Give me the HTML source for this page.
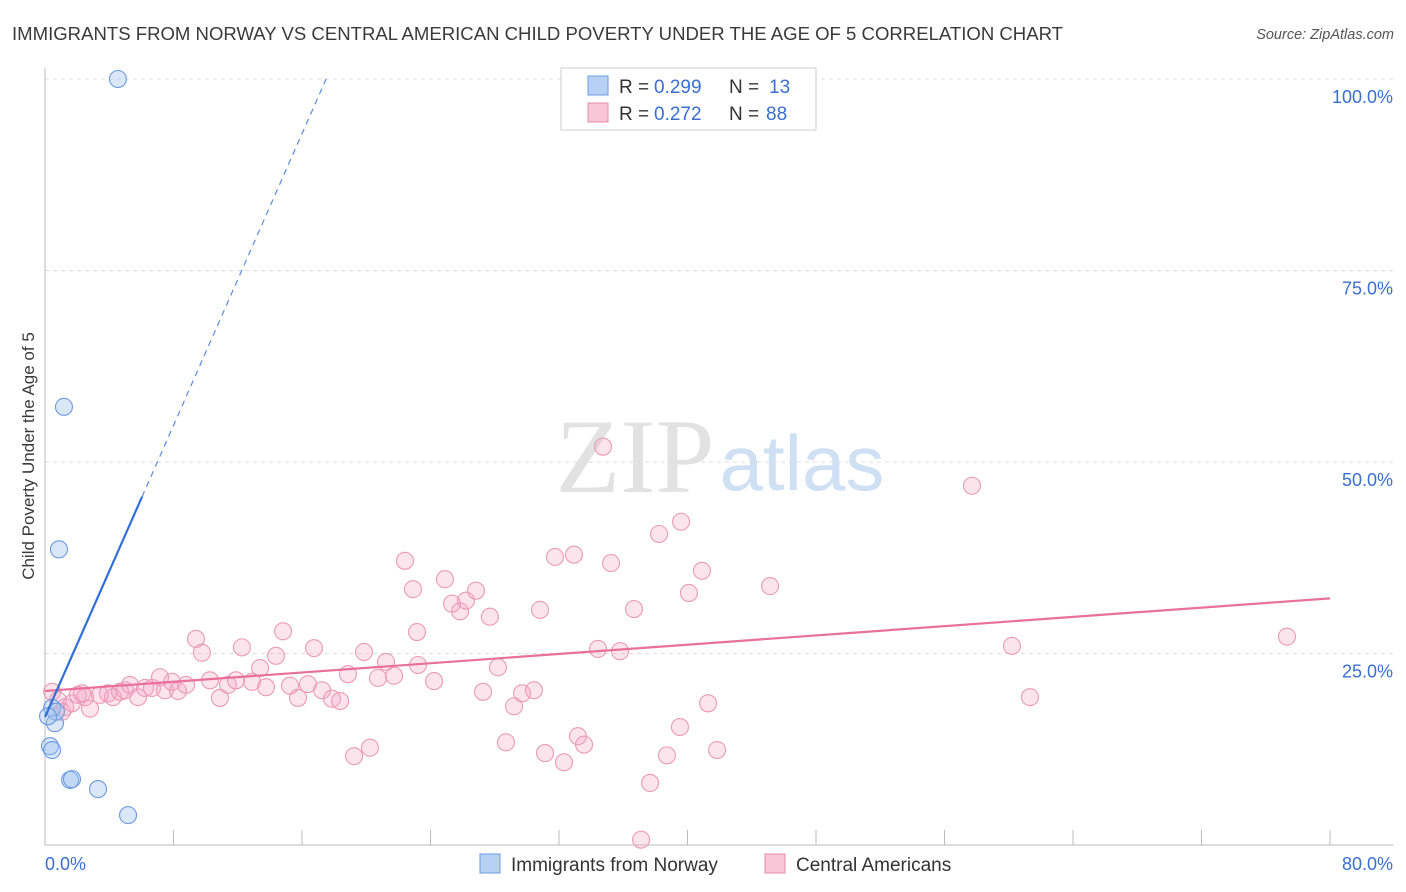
<!DOCTYPE html>
<html><head><meta charset="utf-8"><style>
body{margin:0;background:#fff;font-family:"Liberation Sans",sans-serif;}
svg{display:block}
</style></head><body>
<svg id="chart" width="1406" height="892">
<text x="12" y="40" font-size="18.5" fill="#3a3a3a" textLength="1051" lengthAdjust="spacingAndGlyphs">IMMIGRANTS FROM NORWAY VS CENTRAL AMERICAN CHILD POVERTY UNDER THE AGE OF 5 CORRELATION CHART</text>
<text x="1394" y="39" font-size="14.5" fill="#555" font-style="italic" text-anchor="end">Source: ZipAtlas.com</text>
<text transform="translate(34,456) rotate(-90)" font-size="17" fill="#3a3a3a" text-anchor="middle">Child Poverty Under the Age of 5</text>
<g>
<text x="635" y="492" font-size="106" font-family="Liberation Serif,serif" fill="#e2e2e2" text-anchor="middle">ZIP</text>
<text x="802" y="490" font-size="78" fill="#cfe0f4" text-anchor="middle">atlas</text>
</g>
<g id="grid"></g>
<g id="axes"></g>
<g id="marks"></g>
<g>
<rect x="561" y="68" width="255" height="62" fill="#fff" stroke="#ccc"/>
<rect x="588" y="76" width="20" height="19" fill="#b7d1f4" stroke="#6a9be0"/>
<text x="619" y="93" font-size="19" fill="#333">R =</text>
<text x="654" y="93" font-size="19" fill="#3a6fd0">0.299</text>
<text x="729" y="93" font-size="19" fill="#333">N =</text>
<text x="769" y="93" font-size="19" fill="#3a6fd0">13</text>
<rect x="588" y="103" width="20" height="19" fill="#f8c6d6" stroke="#e68aa9"/>
<text x="619" y="120" font-size="19" fill="#333">R =</text>
<text x="654" y="120" font-size="19" fill="#3a6fd0">0.272</text>
<text x="729" y="120" font-size="19" fill="#333">N =</text>
<text x="766" y="120" font-size="19" fill="#3a6fd0">88</text>
</g>
<g>
<rect x="480" y="854" width="20" height="19" fill="#b7d1f4" stroke="#6a9be0"/>
<text x="511" y="871" font-size="19" fill="#333">Immigrants from Norway</text>
<rect x="765" y="854" width="20" height="19" fill="#f8c6d6" stroke="#e68aa9"/>
<text x="796" y="871" font-size="19" fill="#333">Central Americans</text>
</g>
</svg>
<script>
const yTicks=[25,50,75,100];
const yTickLabels=["25.0%","50.0%","75.0%","100.0%"];
const xTicks=[0,8,16,24,32,40,48,56,64,72,80];
const blueX=[4.54,1.18,0.87,1.56,1.68,3.30,5.17,0.31,0.44,0.62,0.44,0.68,0.19];
const blueY=[100,57.2,38.6,8.5,8.6,7.3,3.9,12.9,12.4,15.9,17.9,17.4,16.8];
const pinkX=[0.44,0.81,1.06,1.25,1.68,2.05,2.49,2.80,2.30,3.42,3.92,4.23,4.67,4.98,5.29,5.79,6.23,6.66,7.16,7.47,7.91,8.28,8.78,9.40,9.77,10.27,10.89,11.39,11.89,12.26,12.89,13.39,13.76,14.38,14.82,15.25,15.75,16.37,16.75,17.25,17.87,18.37,18.86,19.24,19.86,20.23,20.73,21.23,21.73,22.41,22.91,23.22,23.16,24.22,24.90,25.34,25.84,26.21,26.83,27.70,27.27,28.20,28.70,29.20,29.70,30.44,30.82,31.13,31.75,32.31,32.93,33.18,33.56,34.43,34.74,35.24,35.80,36.67,37.11,37.67,38.23,38.72,39.60,39.53,40.09,40.90,41.28,41.84,45.14,57.71,60.20,61.32,77.32];
const pinkY=[20.0,18.9,17.4,18.0,18.5,19.6,19.3,17.8,19.8,19.6,19.8,19.3,20.0,20.2,20.9,19.3,20.5,20.5,21.9,20.2,21.3,20.1,20.9,26.9,25.1,21.5,19.2,20.9,21.5,25.8,21.3,23.1,20.6,24.7,27.9,20.8,19.2,21.0,25.7,20.2,19.1,18.8,22.3,11.6,25.2,12.7,21.8,23.9,22.1,37.1,33.4,23.5,27.8,21.4,34.7,31.5,30.5,31.9,33.2,29.8,20.0,23.2,13.4,18.1,19.8,20.2,30.7,12.0,37.6,10.8,37.9,14.2,13.1,25.6,52.0,36.8,25.3,30.8,0.7,8.1,40.6,11.7,42.2,15.4,32.9,35.8,18.5,12.4,33.8,46.9,26.0,19.3,27.2];
const blueLine=[0,16.7,17.5,100,6.04];
const pinkLine=[0,20.1,80,32.2];
const NS="http://www.w3.org/2000/svg";
const X=v=>45+v*(1330-45)/80;
const Y=v=>845-v*(845-79)/100;
function mk(tag,attrs,parent){const e=document.createElementNS(NS,tag);for(const k in attrs)e.setAttribute(k,attrs[k]);parent.appendChild(e);return e;}
const grid=document.getElementById('grid'),axes=document.getElementById('axes'),marks=document.getElementById('marks');
yTicks.forEach((t,i)=>{
 const l=mk('line',{x1:45,x2:1393,y1:Y(t),y2:Y(t),stroke:'#ddd','stroke-dasharray':'4,4'},grid);
 
 
 const tx=mk('text',{x:1393,y:Y(t)+24,'font-size':18,fill:'#3a6fd0','text-anchor':'end'},axes);
 tx.textContent=yTickLabels[i];
 
 
});
const ax=mk('line',{x1:45,x2:1393,y1:845,y2:845,stroke:'#bbb'},axes);


const ay=mk('line',{x1:45,x2:45,y1:68,y2:845,stroke:'#bbb'},axes);


xTicks.forEach(t=>{
 const l=mk('line',{x1:X(t),x2:X(t),y1:830,y2:845,stroke:'#bbb'},axes);
 
 
});
const xl0=mk('text',{x:45,y:870,'font-size':18,fill:'#3a6fd0'},axes);xl0.textContent='0.0%';


const xl1=mk('text',{x:1393,y:870,'font-size':18,fill:'#3a6fd0','text-anchor':'end'},axes);xl1.textContent='80.0%';


pinkX.forEach((v,i)=>{
 const c=mk('circle',{cx:X(v),cy:Y(pinkY[i]),r:8.5,fill:'rgba(244,165,195,0.3)',stroke:'#eb9ab5','stroke-width':1.1},marks);
 
 
});
blueX.forEach((v,i)=>{
 const c=mk('circle',{cx:X(v),cy:Y(blueY[i]),r:8.5,fill:'rgba(160,195,240,0.4)',stroke:'#6a9be0','stroke-width':1.1},marks);
 
 
});
const pl=mk('line',{x1:X(pinkLine[0]),y1:Y(pinkLine[1]),x2:X(pinkLine[2]),y2:Y(pinkLine[3]),stroke:'#e8709a','stroke-width':2.2},marks);


const slope=(blueLine[3]-blueLine[1])/(blueLine[2]-blueLine[0]);
const bs=mk('line',{x1:X(blueLine[0]),y1:Y(blueLine[1]),x2:X(blueLine[4]),y2:Y(blueLine[1]+slope*blueLine[4]),stroke:'#2f6fd6','stroke-width':2.2},marks);


const bd=mk('line',{x1:X(blueLine[4]),y1:Y(blueLine[1]+slope*blueLine[4]),x2:X(blueLine[2]),y2:Y(blueLine[3]),stroke:'#5a8be0','stroke-width':1.2,'stroke-dasharray':'6,5'},marks);


</script>
</body></html>
